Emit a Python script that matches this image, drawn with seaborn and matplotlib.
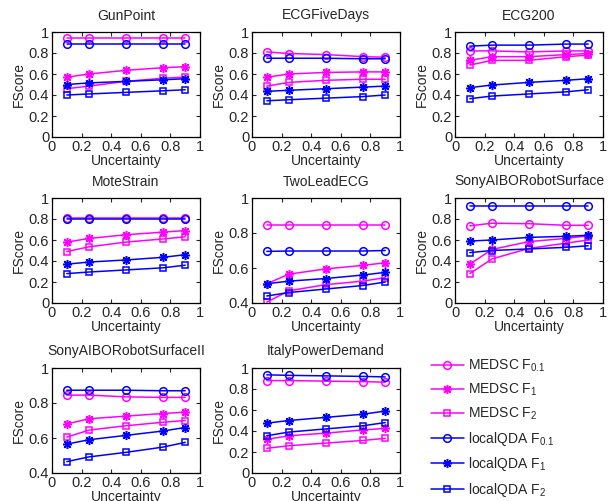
import numpy as np
import pandas as pd
import seaborn as sns
import matplotlib.pyplot as plt
from matplotlib.ticker import FuncFormatter

uncertainty = [0.1, 0.25, 0.5, 0.75, 0.9]

datasets = ['GunPoint', 'ECGFiveDays', 'ECG200', 'MoteStrain', 'TwoLeadECG',
            'SonyAIBORobotSurface', 'SonyAIBORobotSurfaceII', 'ItalyPowerDemand']

series_names = ['MEDSC F$_{0.1}$', 'MEDSC F$_1$', 'MEDSC F$_2$',
                'localQDA F$_{0.1}$', 'localQDA F$_1$', 'localQDA F$_2$']

# valeurs : une liste par série, dans l'ordre de series_names
gunpoint = [
    [0.94, 0.94, 0.94, 0.94, 0.94],
    [0.57, 0.60, 0.635, 0.66, 0.67],
    [0.46, 0.485, 0.53, 0.56, 0.57],
    [0.89, 0.89, 0.89, 0.89, 0.89],
    [0.50, 0.515, 0.53, 0.545, 0.555],
    [0.40, 0.41, 0.425, 0.44, 0.45],
]
ecgfivedays = [
    [0.81, 0.795, 0.785, 0.765, 0.76],
    [0.57, 0.60, 0.615, 0.62, 0.62],
    [0.485, 0.52, 0.54, 0.55, 0.55],
    [0.75, 0.75, 0.75, 0.745, 0.745],
    [0.435, 0.445, 0.46, 0.475, 0.485],
    [0.345, 0.355, 0.37, 0.385, 0.40],
]
ecg200 = [
    [0.82, 0.82, 0.81, 0.82, 0.82],
    [0.73, 0.765, 0.765, 0.785, 0.795],
    [0.685, 0.73, 0.73, 0.765, 0.78],
    [0.865, 0.875, 0.875, 0.885, 0.885],
    [0.47, 0.495, 0.52, 0.54, 0.555],
    [0.365, 0.39, 0.41, 0.43, 0.45],
]
motestrain = [
    [0.81, 0.81, 0.81, 0.81, 0.81],
    [0.58, 0.615, 0.65, 0.675, 0.69],
    [0.49, 0.535, 0.58, 0.61, 0.63],
    [0.80, 0.80, 0.80, 0.80, 0.80],
    [0.37, 0.39, 0.41, 0.435, 0.46],
    [0.28, 0.295, 0.315, 0.335, 0.36],
]
twoleadecg = [
    [0.845, 0.845, 0.845, 0.845, 0.845],
    [0.51, 0.565, 0.595, 0.615, 0.63],
    [0.405, 0.47, 0.505, 0.525, 0.545],
    [0.695, 0.697, 0.697, 0.697, 0.70],
    [0.51, 0.525, 0.54, 0.56, 0.575],
    [0.44, 0.46, 0.48, 0.50, 0.52],
]
sonyaibo = [
    [0.735, 0.76, 0.755, 0.74, 0.74],
    [0.37, 0.51, 0.585, 0.615, 0.64],
    [0.28, 0.42, 0.52, 0.57, 0.60],
    [0.925, 0.925, 0.925, 0.925, 0.925],
    [0.59, 0.60, 0.625, 0.635, 0.645],
    [0.48, 0.50, 0.515, 0.53, 0.545],
]
sonyaibo2 = [
    [0.845, 0.845, 0.835, 0.832, 0.832],
    [0.68, 0.71, 0.725, 0.74, 0.748],
    [0.605, 0.645, 0.67, 0.69, 0.70],
    [0.873, 0.873, 0.873, 0.870, 0.870],
    [0.565, 0.59, 0.615, 0.64, 0.66],
    [0.465, 0.492, 0.518, 0.548, 0.575],
]
italypower = [
    [0.88, 0.88, 0.875, 0.87, 0.865],
    [0.32, 0.355, 0.38, 0.41, 0.425],
    [0.235, 0.26, 0.285, 0.31, 0.33],
    [0.935, 0.93, 0.925, 0.92, 0.915],
    [0.475, 0.50, 0.53, 0.56, 0.59],
    [0.355, 0.39, 0.42, 0.45, 0.48],
]
all_values = [gunpoint, ecgfivedays, ecg200, motestrain, twoleadecg,
              sonyaibo, sonyaibo2, italypower]
ylims = [(0, 1), (0, 1), (0, 1), (0, 1), (0.4, 1), (0, 1), (0.4, 1), (0, 1)]

colors = ['#ff00ff'] * 3 + ['#0000ff'] * 3
markers = ['o', (8, 2, 0), 's', 'o', (8, 2, 0), 's']
msizes = [5.5, 6.5, 4.8, 5.5, 6.5, 4.8]

sns.set_style('ticks')
plt.rcParams['font.family'] = ['Liberation Sans', 'DejaVu Sans']
plt.rcParams['mathtext.default'] = 'regular'
plt.rcParams['xtick.direction'] = 'in'
plt.rcParams['ytick.direction'] = 'in'

W, H = 615, 501
fig = plt.figure(figsize=(W / 100, H / 100), dpi=100)

col_left = [52, 252, 455]
row_top = [32, 198, 368]
aw, ah = 148, 105

fmt = FuncFormatter(lambda v, p: '%g' % round(v, 2))

handles = []
for i, name in enumerate(datasets):
    r, c = divmod(i, 3)
    ax = fig.add_axes([col_left[c] / W, 1 - (row_top[r] + ah) / H, aw / W, ah / H])
    for k, vals in enumerate(all_values[i]):
        sns.lineplot(x=uncertainty, y=vals, ax=ax, color=colors[k],
                     marker=markers[k], markersize=msizes[k],
                     markerfacecolor='none', markeredgecolor=colors[k],
                     markeredgewidth=1.1, linewidth=1.1, label=series_names[k])
    ax.legend_.remove()
    ax.set_xlim(0, 1)
    ax.set_ylim(*ylims[i])
    ax.set_xticks(np.arange(0, 1.01, 0.2))
    ax.set_yticks(np.arange(ylims[i][0], 1.01, 0.2))
    ax.xaxis.set_major_formatter(fmt)
    ax.yaxis.set_major_formatter(fmt)
    ax.tick_params(labelsize=10.5, length=3, width=0.8, top=True, right=True, pad=2)
    for s in ax.spines.values():
        s.set_linewidth(0.9)
        s.set_color('black')
    ax.set_title(name, fontsize=10, pad=9)
    ax.set_xlabel('Uncertainty', fontsize=10, labelpad=0)
    ax.set_ylabel('FScore', fontsize=10, labelpad=2)
    if i == 0:
        handles, labels = ax.get_legend_handles_labels()

fig.legend(handles, series_names, loc='upper left',
           bbox_to_anchor=(425 / W, 1 - 352 / H), frameon=False,
           fontsize=10, handlelength=2.4, handletextpad=0.3,
           labelspacing=0.55, borderaxespad=0)

fig.savefig('out.png', dpi=100)
